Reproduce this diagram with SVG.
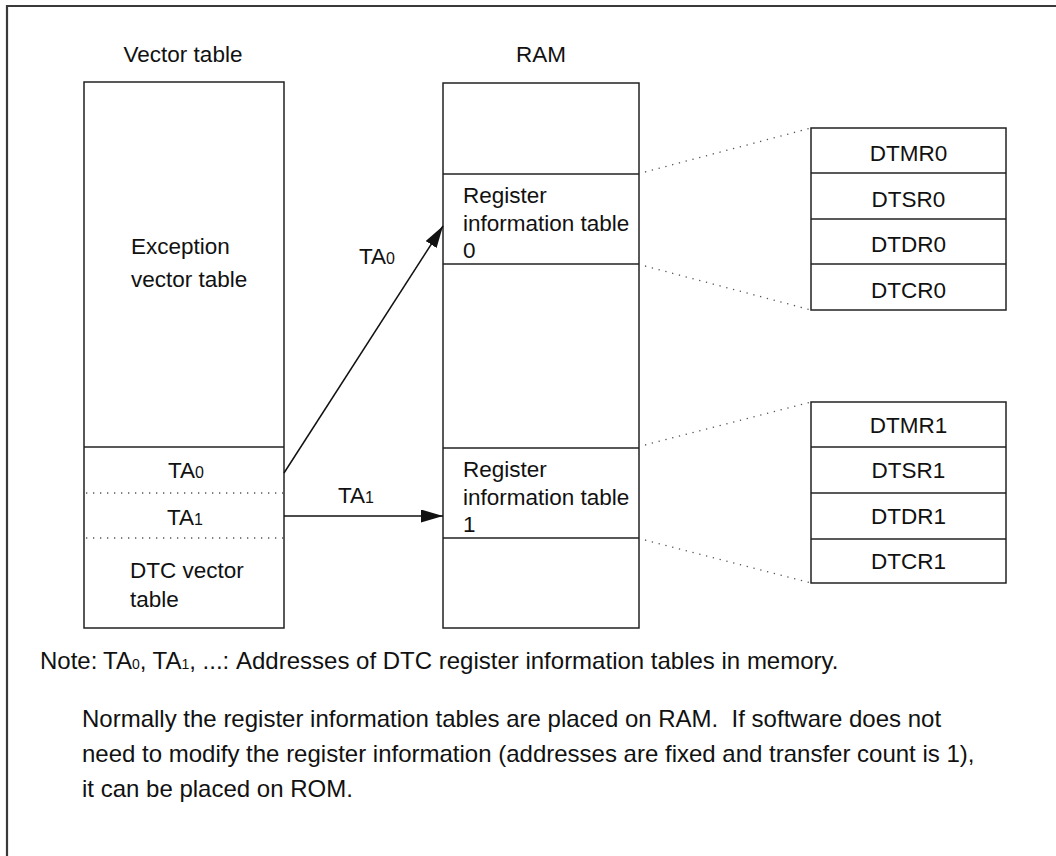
<svg xmlns="http://www.w3.org/2000/svg" width="1056" height="856" viewBox="0 0 1056 856">
<style>
text{font-family:"Liberation Sans",Arial,sans-serif;fill:#111;white-space:pre;}
.lbl{font-size:22.5px;}
.note{font-size:24px;}
.sub{font-size:16px;}
.note .sub{font-size:14px;}
.box{fill:none;stroke:#222;stroke-width:1.5;}
.ln{stroke:#222;stroke-width:1.5;fill:none;}
.dot{stroke:#555;stroke-width:1.3;stroke-dasharray:1.3 5.7;fill:none;}
.frame{stroke:#3a3a3a;stroke-width:2.2;fill:none;}
.arr{stroke:#111;stroke-width:1.5;fill:none;marker-end:url(#ah);}
</style>
<defs>
<marker id="ah" markerUnits="userSpaceOnUse" markerWidth="24" markerHeight="14" refX="22" refY="6.5" orient="auto">
<path d="M0,0 L22,6.5 L0,13 Z" fill="#111"/>
</marker>
</defs>
<rect width="1056" height="856" fill="#fff"/>
<path class="frame" d="M7,856 V6 H1056"/>

<g id="vector-table">
<text class="lbl" x="183" y="62" text-anchor="middle">Vector table</text>
<rect class="box" x="84" y="82" width="200" height="546"/>
<line class="ln" x1="84" y1="447" x2="284" y2="447"/>
<text class="lbl" x="131" y="254">Exception</text>
<text class="lbl" x="131" y="287">vector table</text>
</g>

<g id="ta0-entry">
<text class="lbl" x="168" y="478">TA<tspan class="sub">0</tspan></text>
<line class="dot" x1="86" y1="493" x2="284" y2="493"/>
</g>
<g id="ta1-entry">
<text class="lbl" x="167" y="525">TA<tspan class="sub">1</tspan></text>
<line class="dot" x1="86" y1="538" x2="284" y2="538"/>
</g>
<g id="dtc-vector-table">
<text class="lbl" x="130" y="578">DTC vector</text>
<text class="lbl" x="130" y="607">table</text>
</g>

<g id="ram">
<text class="lbl" x="541" y="62" text-anchor="middle">RAM</text>
<rect class="box" x="443" y="83" width="196" height="545"/>
</g>
<g id="reg-info-0">
<line class="ln" x1="443" y1="174" x2="639" y2="174"/>
<line class="ln" x1="443" y1="264" x2="639" y2="264"/>
<text class="lbl" x="463" y="203">Register</text>
<text class="lbl" x="463" y="231">information table</text>
<text class="lbl" x="463" y="258">0</text>
</g>
<g id="reg-info-1">
<line class="ln" x1="443" y1="448" x2="639" y2="448"/>
<line class="ln" x1="443" y1="538" x2="639" y2="538"/>
<text class="lbl" x="463" y="477">Register</text>
<text class="lbl" x="463" y="505">information table</text>
<text class="lbl" x="463" y="532">1</text>
</g>

<g id="regs-0">
<rect class="box" x="811" y="128" width="195" height="182"/>
<line class="ln" x1="811" y1="173" x2="1006" y2="173"/>
<line class="ln" x1="811" y1="219" x2="1006" y2="219"/>
<line class="ln" x1="811" y1="264" x2="1006" y2="264"/>
<text class="lbl" x="908.5" y="161" text-anchor="middle">DTMR0</text>
<text class="lbl" x="908.5" y="207" text-anchor="middle">DTSR0</text>
<text class="lbl" x="908.5" y="252" text-anchor="middle">DTDR0</text>
<text class="lbl" x="908.5" y="298" text-anchor="middle">DTCR0</text>
</g>
<g id="regs-1">
<rect class="box" x="811" y="402" width="195" height="181"/>
<line class="ln" x1="811" y1="447" x2="1006" y2="447"/>
<line class="ln" x1="811" y1="493" x2="1006" y2="493"/>
<line class="ln" x1="811" y1="539" x2="1006" y2="539"/>
<text class="lbl" x="908.5" y="433" text-anchor="middle">DTMR1</text>
<text class="lbl" x="908.5" y="478" text-anchor="middle">DTSR1</text>
<text class="lbl" x="908.5" y="524" text-anchor="middle">DTDR1</text>
<text class="lbl" x="908.5" y="569" text-anchor="middle">DTCR1</text>
</g>

<g id="connectors">
<line class="arr" x1="284" y1="473" x2="443" y2="226"/>
<text class="lbl" x="359" y="264">TA<tspan class="sub">0</tspan></text>
<line class="arr" x1="284" y1="516" x2="443" y2="516"/>
<text class="lbl" x="338" y="503">TA<tspan class="sub">1</tspan></text>
<line class="dot" x1="645" y1="172" x2="811" y2="128"/>
<line class="dot" x1="645" y1="266" x2="811" y2="310"/>
<line class="dot" x1="645" y1="445" x2="811" y2="402"/>
<line class="dot" x1="645" y1="540" x2="811" y2="583"/>
</g>

<g id="note">
<text class="note" x="40" y="669">Note: <tspan x="103">TA<tspan class="sub">0</tspan>, TA<tspan class="sub">1</tspan>, ...: </tspan><tspan x="236">Addresses of DTC register information tables in memory.</tspan></text>
<text class="note" x="82" y="727">Normally the register information tables are placed on RAM.  If software does not</text>
<text class="note" x="82" y="762">need to modify the register information (addresses are fixed and transfer count is 1),</text>
<text class="note" x="82" y="797">it can be placed on ROM.</text>
</g>
</svg>
